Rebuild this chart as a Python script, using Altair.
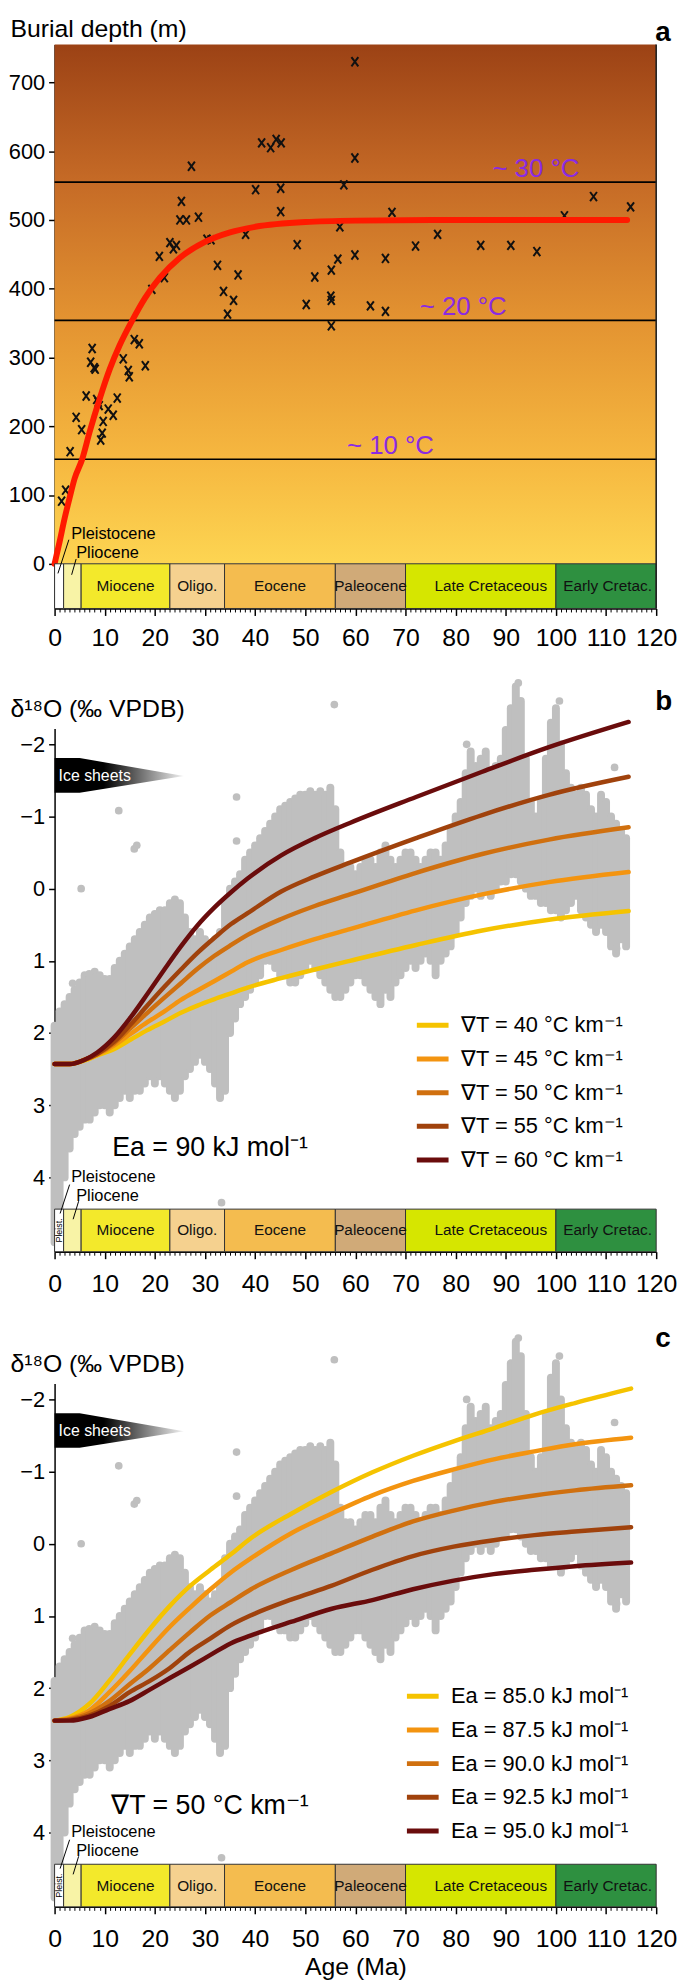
import altair as alt
import pandas as pd

FONT = "Liberation Sans"
W = 607
HA = 569
HB = 528

# ---------------- panel a data ----------------
pt_age = [1.4, 2.2, 3.1, 4.3, 5.4, 6.3, 7.5, 7.2, 7.9, 8.1, 8.4, 8.9, 8.7, 9.7, 9.5, 9.2, 10.7, 11.7, 12.5,
          13.7, 14.7, 14.9, 15.9, 16.9, 18.1, 19.4, 21.9, 20.9, 23.0, 23.7, 24.3, 25.3, 25.0, 26.3, 28.7,
          27.3, 30.4, 31.2, 32.5, 33.7, 35.7, 34.5, 36.6, 38.1, 40.1, 41.3, 43.1, 44.2, 45.2, 45.1, 45.1,
          48.4, 50.2, 51.9, 55.2, 55.1, 55.2, 55.2, 56.5, 56.9, 57.7, 59.9, 59.9, 67.3, 59.9, 66.0, 72.0,
          76.4, 85.0, 91.0, 96.2, 101.7, 107.5, 114.9, 63.0, 66.0]
pt_depth = [91, 107, 163, 213, 195, 244, 313, 293, 285, 283, 239, 230, 235, 207, 190, 180, 225, 216, 241,
            298, 281, 272, 326, 320, 288, 399, 416, 447, 467, 458, 463, 527, 500, 500, 504,
            578, 472, 471, 434, 396, 383, 363, 420, 479, 544, 612, 605, 617, 612, 546, 512,
            464, 377, 417, 427, 389, 383, 346, 443, 490, 551, 730, 590, 511, 449, 444, 462,
            479, 463, 463, 454, 506, 534, 519, 375, 367]

red_age = [0, 1, 2, 3, 4, 5.5, 7, 9, 11, 13, 15.5, 18, 21, 25, 30, 35, 40, 50, 60, 80, 114.2]
red_depth = [0, 32, 66, 96, 124, 152, 192, 240, 283, 318, 354, 386, 416, 445, 468, 482, 490, 497, 499, 500, 500]

temp_depth = [152, 354, 555]
temp_label = ["~ 10 °C", "~ 20 °C", "~ 30 °C"]
temp_lab_age = [67.0, 81.5, 96.0]
temp_lab_depth = [171, 373, 574]

# ---------------- geologic time scale ----------------
ep_start = [0, 1.8, 5.3, 23.0, 33.9, 56.0, 70.0, 100.0]
ep_end = [1.8, 5.3, 23.0, 33.9, 56.0, 70.0, 100.0, 120.0]
ep_color = ["#ffffff", "#f8f3a6", "#f3e92b", "#f5d18f", "#f4bc4f", "#d0aa78", "#d6e600", "#2e9040"]
lab_name = ["Miocene", "Oligo.", "Eocene", "Paleocene", "Late Cretaceous", "Early Cretac."]
lab_age = [14.15, 28.45, 44.95, 63.0, 87.0, 110.3]

# ---------------- benthic d18O cloud (panels b, c) ----------------
env_age = list(range(0, 115))
env_lo = [1.9, 1.7, 1.6, 1.5, 1.4, 1.3, 1.2, 1.2, 1.15, 1.2,
          1.25, 1.25, 1.1, 1.0, 0.9, 0.8, 0.7, 0.6, 0.5, 0.4,
          0.35, 0.3, 0.3, 0.2, 0.15, 0.2, 0.4, 0.6, 0.7, 0.6,
          0.7, 0.8, 0.7, 0.6, 0.2, 0.0, -0.1, -0.2, -0.4, -0.5,
          -0.6, -0.7, -0.8, -0.9, -1.0, -1.1, -1.15, -1.2, -1.25, -1.3,
          -1.3, -1.35, -1.3, -1.35, -1.3, -1.4, -1.1, -0.5, -0.3, -0.3,
          -0.2, -0.3, -0.4, -0.4, -0.3, -0.5, -0.6, -0.4, -0.3, -0.4,
          -0.5, -0.5, -0.4, -0.3, -0.4, -0.5, -0.5, -0.4, -0.6, -0.8,
          -1.0, -1.2, -1.6, -1.9, -1.7, -1.8, -1.9, -1.6, -1.7, -1.8,
          -2.2, -2.5, -2.8, -2.6, -1.8, -1.2, -1.0, -1.2, -1.8, -2.3,
          -2.5, -2.0, -1.6, -1.4, -1.3, -1.4, -1.3, -1.1, -1.0, -1.3,
          -1.2, -1.0, -0.9, -0.8, -0.7]
env_hi = [4.9, 4.6, 4.0, 3.6, 3.4, 3.3, 3.2, 3.2, 3.1, 3.0,
          3.0, 3.1, 3.0, 2.9, 2.8, 2.9, 2.8, 2.8, 2.7, 2.6,
          2.7, 2.6, 2.7, 2.8, 2.9, 2.8, 2.6, 2.5, 2.4, 2.3,
          2.4, 2.5, 2.7, 2.9, 2.8, 2.0, 1.8, 1.6, 1.5, 1.4,
          1.3, 1.2, 1.0, 1.0, 1.1, 1.2, 1.2, 1.3, 1.3, 1.2,
          1.1, 1.0, 1.1, 1.2, 1.3, 1.4, 1.5, 1.5, 1.4, 1.3,
          1.2, 1.2, 1.3, 1.4, 1.5, 1.6, 1.4, 1.5, 1.3, 1.2,
          1.1, 1.0, 1.1, 1.0, 0.9, 1.0, 1.2, 1.0, 0.9, 0.8,
          0.6, 0.4, 0.2, 0.1, 0.0, 0.1, 0.0, 0.1, 0.0, -0.1,
          -0.1, -0.2, -0.2, -0.1, 0.0, 0.1, 0.1, 0.2, 0.2, 0.3,
          0.3, 0.4, 0.3, 0.2, 0.1, 0.3, 0.4, 0.5, 0.6, 0.5,
          0.6, 0.8, 0.9, 0.7, 0.8]
out_age = [5.3, 12.8, 15.9, 16.4, 36.3, 36.3, 36.1, 33.3, 92.5, 100.7, 82.2, 111.7, 112.1, 55.8, 6.9, 3.6]
out_val = [0.0, -1.08, -0.55, -0.6, -1.27, -0.66, -0.08, 4.35, -2.85, -2.6, -2.0, -1.68, 0.83, -2.55, 1.18, 1.31]

# ---------------- model curves ----------------
b_age = [0, 3, 6, 8.5, 11.9, 15.2, 18.5, 21.9, 25.2, 28.5, 31.9, 35.2, 38.5, 45.2, 51.9, 58.9, 72.1, 85.3, 98.6, 114.5]
b_labels = ["∇T = 40 °C km⁻¹", "∇T = 45 °C km⁻¹", "∇T = 50 °C km⁻¹", "∇T = 55 °C km⁻¹", "∇T = 60 °C km⁻¹"]
b_vals = [
    [2.43, 2.43, 2.38, 2.31, 2.22, 2.09, 1.96, 1.84, 1.72, 1.62, 1.53, 1.45, 1.37, 1.24, 1.12, 1.00, 0.78, 0.58, 0.43, 0.31],
    [2.43, 2.43, 2.37, 2.30, 2.17, 2.01, 1.85, 1.70, 1.54, 1.41, 1.28, 1.15, 1.02, 0.85, 0.70, 0.56, 0.30, 0.08, -0.09, -0.23],
    [2.43, 2.43, 2.37, 2.29, 2.14, 1.93, 1.72, 1.51, 1.31, 1.11, 0.93, 0.78, 0.64, 0.42, 0.24, 0.08, -0.22, -0.48, -0.68, -0.85],
    [2.43, 2.43, 2.37, 2.29, 2.12, 1.88, 1.62, 1.36, 1.12, 0.89, 0.68, 0.49, 0.34, 0.04, -0.17, -0.36, -0.70, -1.02, -1.30, -1.55],
    [2.43, 2.43, 2.37, 2.27, 2.06, 1.78, 1.46, 1.12, 0.80, 0.51, 0.26, 0.05, -0.14, -0.46, -0.70, -0.91, -1.27, -1.62, -1.96, -2.31],
]
c_age = [0, 3, 6.9, 10.9, 14.9, 19.0, 23.0, 27.1, 31.1, 35.1, 39.2, 47.3, 55.3, 63.4, 71.5, 79.6, 87.6, 95.7, 103.8, 115.0]
c_labels = ["Ea = 85.0 kJ mol⁻¹", "Ea = 87.5 kJ mol⁻¹", "Ea = 90.0 kJ mol⁻¹", "Ea = 92.5 kJ mol⁻¹", "Ea = 95.0 kJ mol⁻¹"]
c_vals = [
    [2.45, 2.40, 2.22, 1.90, 1.54, 1.18, 0.86, 0.58, 0.36, 0.15, -0.08, -0.42, -0.72, -0.99, -1.22, -1.42, -1.60, -1.79, -1.95, -2.15],
    [2.45, 2.42, 2.31, 2.06, 1.77, 1.45, 1.15, 0.88, 0.63, 0.40, 0.20, -0.15, -0.42, -0.67, -0.87, -1.03, -1.17, -1.28, -1.38, -1.47],
    [2.45, 2.43, 2.35, 2.18, 1.95, 1.72, 1.47, 1.22, 0.99, 0.81, 0.63, 0.36, 0.13, -0.10, -0.31, -0.46, -0.58, -0.67, -0.74, -0.81],
    [2.45, 2.44, 2.38, 2.25, 2.06, 1.90, 1.72, 1.49, 1.31, 1.13, 0.99, 0.77, 0.58, 0.36, 0.17, 0.04, -0.05, -0.12, -0.17, -0.23],
    [2.45, 2.45, 2.40, 2.29, 2.18, 2.02, 1.86, 1.70, 1.54, 1.38, 1.27, 1.08, 0.90, 0.78, 0.63, 0.51, 0.42, 0.36, 0.31, 0.26],
]
curve_colors = ["#f5c300", "#f39410", "#d0700f", "#a0420c", "#6a0c0c"]

ice_age = [0, 5.0, 25.8]
ice_lo = [-1.81, -1.81, -1.56]
ice_hi = [-1.33, -1.33, -1.56]

# ---------------- scales & axes ----------------
XS = alt.Scale(domain=[0, 120], nice=False, zero=False)
YA = alt.Scale(domain=[-65, 755], nice=False, zero=False)
YB = alt.Scale(domain=[-2.22, 5.03], nice=False, zero=False, reverse=True)


def x_axis(title=None, pad=13):
    kw = dict(values=list(range(0, 121)),
              tickSize={"condition": {"test": "datum.value % 10 === 0", "value": 7}, "value": 3.5},
              tickWidth={"condition": {"test": "datum.value % 10 === 0", "value": 1.5}, "value": 1},
              labelExpr="datum.value % 10 === 0 ? datum.label : ''",
              labelFontSize=25, labelPadding=pad, labelFont=FONT, domainWidth=1.5, domainColor="black",
              tickColor="black", labelColor="black", grid=False, labelFlush=False, labelOverlap=False,
              orient="bottom")
    if title:
        kw.update(title=title, titleFontSize=25, titleFont=FONT, titleFontWeight="normal",
                  titlePadding=3, titleColor="black")
    else:
        kw.update(title=None)
    return alt.Axis(**kw)


def y_axis(values, title, ty):
    return alt.Axis(values=values, tickSize=6, tickWidth=1.5, labelFontSize=22, labelPadding=4,
                    labelFont=FONT, labelColor="black", domainWidth=1.5, domainColor="black",
                    tickColor="black", grid=False, title=title, titleAngle=0, titleAlign="left",
                    titleBaseline="alphabetic", titleX=-45, titleY=ty, titleFontSize=25,
                    titleFont=FONT, titleFontWeight="normal", titleColor="black", orient="left")


def builders(ys, yax, xax):
    def X(f):
        return alt.X(f"{f}:Q", scale=XS, axis=xax)

    def Y(f):
        return alt.Y(f"{f}:Q", scale=ys, axis=yax)
    return X, Y


def timescale(X, Y, y0, y1, ymid, pleist_text):
    df = pd.DataFrame({"s": ep_start, "e": ep_end, "col": ep_color,
                       "y0": [y0] * len(ep_start), "y1": [y1] * len(ep_start)})
    rect = alt.Chart(df).mark_rect(stroke="#333333", strokeWidth=1).encode(
        x=X("s"), x2="e", y=Y("y0"), y2="y1", fill=alt.Fill("col:N", scale=None))
    ldf = pd.DataFrame({"a": lab_age, "n": lab_name, "y": [ymid] * len(lab_age)})
    txt = alt.Chart(ldf).mark_text(font=FONT, fontSize=15.5, baseline="middle", color="#111111").encode(
        x=X("a"), y=Y("y"), text="n:N")
    layers = [rect, txt]
    if pleist_text:
        pdf = pd.DataFrame({"a": [0.9], "y": [ymid], "t": ["Pleist."]})
        layers.append(alt.Chart(pdf).mark_text(font=FONT, fontSize=9, angle=270, baseline="middle").encode(
            x=X("a"), y=Y("y"), text="t:N"))
    return layers


def epoch_notes(X, Y, v_pleist, v_plio, line1, line2):
    tdf = pd.DataFrame({"a": [3.3, 4.3], "y": [v_pleist, v_plio], "t": ["Pleistocene", "Pliocene"]})
    t = alt.Chart(tdf).mark_text(font=FONT, fontSize=16.5, align="left", baseline="middle").encode(
        x=X("a"), y=Y("y"), text="t:N")
    ldf = pd.DataFrame({"a0": [line1[0], line2[0]], "y0": [line1[1], line2[1]],
                        "a1": [line1[2], line2[2]], "y1": [line1[3], line2[3]]})
    r = alt.Chart(ldf).mark_rule(color="black", strokeWidth=1).encode(
        x=X("a0"), y=Y("y0"), x2="a1", y2="y1")
    return [t, r]


def letter(X, Y, txt, yv):
    df = pd.DataFrame({"a": [119.8], "y": [yv], "t": [txt]})
    return alt.Chart(df).mark_text(font=FONT, fontSize=28, fontWeight="bold", align="left",
                                   baseline="alphabetic").encode(x=X("a"), y=Y("y"), text="t:N")


# ---------------- panel a ----------------
Xa, Ya = builders(YA, y_axis(list(range(0, 701, 100)), "Burial depth (m)", -8), x_axis(None, 10))

bg = pd.DataFrame({"x0": [0], "x1": [120], "y0": [0], "y1": [755]})
grad = alt.Gradient(gradient="linear", x1=0, x2=0, y1=0, y2=1, stops=[
    alt.GradientStop(offset=0, color="#9c4215"),
    alt.GradientStop(offset=0.26, color="#c56a26"),
    alt.GradientStop(offset=0.53, color="#e39331"),
    alt.GradientStop(offset=0.80, color="#f6b840"),
    alt.GradientStop(offset=1.0, color="#fdd552")])
a_bg = alt.Chart(bg).mark_rect(fill=grad).encode(x=Xa("x0"), x2="x1", y=Ya("y0"), y2="y1")

tl = pd.DataFrame({"d": temp_depth, "x0": [0] * 3, "x1": [120] * 3})
a_lines = alt.Chart(tl).mark_rule(color="black", strokeWidth=1.6).encode(
    y=Ya("d"), x=Xa("x0"), x2="x1")

tt = pd.DataFrame({"a": temp_lab_age, "d": temp_lab_depth, "t": temp_label})
a_tlab = alt.Chart(tt).mark_text(font=FONT, fontSize=26, color="#8a2be2", baseline="middle").encode(
    x=Xa("a"), y=Ya("d"), text="t:N")

pts = pd.DataFrame({"a": pt_age, "d": pt_depth})
a_pts = alt.Chart(pts).mark_point(shape="M-0.75,-1L0.75,1M-0.75,1L0.75,-1", size=85, strokeWidth=2,
                                  color="#111111", filled=False, opacity=1).encode(
    x=Xa("a"), y=Ya("d"))

red = pd.DataFrame({"a": red_age, "d": red_depth})
a_red = alt.Chart(red).mark_line(color="#ff1a00", strokeWidth=6, interpolate="monotone",
                                 strokeCap="round").encode(x=Xa("a"), y=Ya("d"))

edge = pd.DataFrame({"a": [120], "y0": [-65], "y1": [755]})
a_edge = alt.Chart(edge).mark_rule(color="#222222", strokeWidth=1.6).encode(
    x=Xa("a"), y=Ya("y0"), y2="y1")

panel_a = alt.layer(
    a_bg, a_lines, a_tlab, a_pts, a_red,
    *timescale(Xa, Ya, -65, 0, -32.5, False),
    *epoch_notes(Xa, Ya, 43, 16, (2.85, 35, 0.67, -14), (4.3, 7, 3.4, -16)),
    a_edge, letter(Xa, Ya, "a", 760.8)
).properties(width=W, height=HA)


# ---------------- panels b and c ----------------
def d18o_panel(labels, ages, vals, field, legend_x, legend_y, note, note_y, letter_txt, letter_y, xtitle):
    X, Y = builders(YB, y_axis([-2, -1, 0, 1, 2, 3, 4], "δ¹⁸O (‰ VPDB)", -12), x_axis(xtitle))
    env = pd.DataFrame({"a": env_age, "lo": env_lo, "hi": env_hi})
    cloud = alt.Chart(env).mark_rule(color="#bfbfbf", strokeWidth=8, strokeCap="round").encode(
        x=X("a"), y=Y("lo"), y2="hi")
    odf = pd.DataFrame({"a": out_age, "v": out_val})
    outl = alt.Chart(odf).mark_circle(color="#bfbfbf", size=60, opacity=1).encode(x=X("a"), y=Y("v"))
    rows = []
    for lab, vs in zip(labels, vals):
        for a, v in zip(ages, vs):
            rows.append({field: lab, "a": a, "v": v})
    cdf = pd.DataFrame(rows)
    curves = alt.Chart(cdf).mark_line(strokeWidth=4.5, interpolate="monotone", strokeCap="round").encode(
        x=X("a"), y=Y("v"),
        color=alt.Color(f"{field}:N", sort=labels,
                        scale=alt.Scale(domain=labels, range=curve_colors),
                        legend=alt.Legend(orient="none", legendX=legend_x, legendY=legend_y, title=None,
                                          symbolType="stroke", symbolSize=1024, symbolStrokeWidth=5,
                                          labelFontSize=22, labelFont=FONT, labelColor="black",
                                          labelOffset=10, rowPadding=4, padding=0, labelLimit=400)))
    ice = pd.DataFrame({"a": ice_age, "lo": ice_lo, "hi": ice_hi})
    igrad = alt.Gradient(gradient="linear", x1=0, x2=1, y1=0, y2=0, stops=[
        alt.GradientStop(offset=0, color="#000000"),
        alt.GradientStop(offset=0.38, color="#000000"),
        alt.GradientStop(offset=1.0, color="#f2f2f2")])
    ice_area = alt.Chart(ice).mark_area(fill=igrad, interpolate="linear").encode(
        x=X("a"), y=Y("lo"), y2="hi")
    itxt = pd.DataFrame({"a": [0.8], "v": [-1.56], "t": ["Ice sheets"]})
    ice_text = alt.Chart(itxt).mark_text(font=FONT, fontSize=16, color="white", align="left",
                                         baseline="middle").encode(x=X("a"), y=Y("v"), text="t:N")
    ndf = pd.DataFrame({"a": [31.0], "v": [note_y], "t": [note]})
    note_t = alt.Chart(ndf).mark_text(font=FONT, fontSize=27, baseline="middle").encode(
        x=X("a"), y=Y("v"), text="t:N")
    return alt.layer(
        cloud, outl, curves,
        *timescale(X, Y, 4.44, 5.03, 4.735, True),
        *epoch_notes(X, Y, 4.0, 4.26, (3.0, 4.1, 1.1, 4.5), (4.8, 4.33, 3.7, 4.58)),
        ice_area, ice_text, note_t, letter(X, Y, letter_txt, letter_y)
    ).properties(width=W, height=HB)


panel_b = d18o_panel(b_labels, b_age, b_vals, "grad", 363, 281, "Ea = 90 kJ mol⁻¹", 3.6, "b", -2.48, None)
panel_c = d18o_panel(c_labels, c_age, c_vals, "ea", 353, 297, "∇T = 50 °C km⁻¹", 3.64, "c", -2.72, "Age (Ma)")

chart = alt.vconcat(panel_a, panel_b, panel_c, spacing=29).resolve_scale(
    color="independent", x="independent", y="independent"
).properties(padding=0).configure_view(stroke=None)

chart.save("out.html", embed_options={"renderer": "svg", "actions": False})
